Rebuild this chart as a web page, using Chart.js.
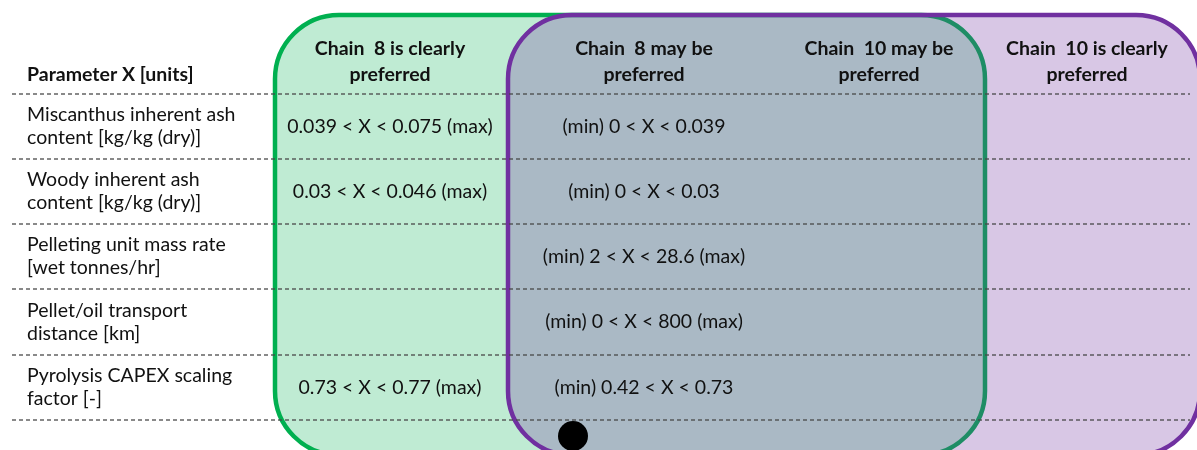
<!DOCTYPE html>
<html>
<head>
<meta charset="utf-8">
<script src="https://cdn.jsdelivr.net/npm/chart.js@4/dist/chart.umd.min.js"></script>
<style>
  html, body { margin: 0; padding: 0; background: #ffffff; overflow: hidden; }
  #wrap { width: 1197px; height: 450px; position: relative; }
</style>
</head>
<body>
<div id="wrap"><canvas id="c"></canvas></div>
<script>
// ---------------- data ----------------
const tableHeader = "Parameter X [units]";
const columnHeaders = [
  ["Chain  8 is clearly", "preferred"],
  ["Chain  8 may be", "preferred"],
  ["Chain  10 may be", "preferred"],
  ["Chain  10 is clearly", "preferred"]
];
const parameters = [
  ["Miscanthus inherent ash", "content [kg/kg (dry)]"],
  ["Woody inherent ash", "content [kg/kg (dry)]"],
  ["Pelleting unit mass rate", "[wet tonnes/hr]"],
  ["Pellet/oil transport", "distance [km]"],
  ["Pyrolysis CAPEX scaling", "factor [-]"]
];
const chain8ClearRanges = [
  "0.039 < X < 0.075 (max)",
  "0.03 < X < 0.046 (max)",
  "",
  "",
  "0.73 < X < 0.77 (max)"
];
const chain8MayRanges = [
  "(min) 0 < X < 0.039",
  "(min) 0 < X < 0.03",
  "(min) 2 < X < 28.6 (max)",
  "(min) 0 < X < 800 (max)",
  "(min) 0.42 < X < 0.73"
];
const chain10MayRanges = ["", "", "", "", ""];
const chain10ClearRanges = ["", "", "", "", ""];

// ---------------- layout (scale units) ----------------
const layout = {
  xMax: 1197, yMax: 450,
  labelX: 27,
  headerLineY: [49, 75],
  rowLines: [94, 159, 224, 289, 355, 420],
  lineStart: 12, lineEnd: 1190,
  colCenters: [390, 644, 879, 1087],
  lineGap: 23,
  zones: [
    { x0: 275, x1: 985, y0: 15, y1: 455, r: 64, stroke: '#00B050', fill: 'rgba(0,176,80,0.25)' },
    { x0: 508, x1: 1200, y0: 15, y1: 455, r: 64, stroke: '#7030A0', fill: 'rgba(112,48,160,0.27)' }
  ],
  dot: { x: 573, y: 436, r: 15 }
};
const FONT = 'Lato';
const FS = 19.5;

const valueColumns = [chain8ClearRanges, chain8MayRanges, chain10MayRanges, chain10ClearRanges];

// ---------------- datasets ----------------
const datasets = [];
layout.rowLines.forEach(y => {
  datasets.push({
    type: 'line',
    data: [{ x: layout.lineStart, y: y }, { x: layout.lineEnd, y: y }],
    borderColor: 'rgba(70,70,70,0.85)',
    borderWidth: 1.3,
    borderDash: [4, 3],
    pointRadius: 0,
    fill: false
  });
});
datasets.push({
  type: 'scatter',
  data: [{ x: layout.dot.x, y: layout.dot.y }],
  pointRadius: layout.dot.r,
  pointHoverRadius: layout.dot.r,
  backgroundColor: '#000000',
  borderColor: '#000000',
  borderWidth: 0,
  clip: false
});

// ---------------- plugins ----------------
function roundRect(ctx, x0, y0, x1, y1, r) {
  ctx.beginPath();
  ctx.moveTo(x0 + r, y0);
  ctx.lineTo(x1 - r, y0);
  ctx.arcTo(x1, y0, x1, y0 + r, r);
  ctx.lineTo(x1, y1 - r);
  ctx.arcTo(x1, y1, x1 - r, y1, r);
  ctx.lineTo(x0 + r, y1);
  ctx.arcTo(x0, y1, x0, y1 - r, r);
  ctx.lineTo(x0, y0 + r);
  ctx.arcTo(x0, y0, x0 + r, y0, r);
  ctx.closePath();
}

const zonesPlugin = {
  id: 'zones',
  beforeDatasetsDraw(chart) {
    const ctx = chart.ctx, xs = chart.scales.x, ys = chart.scales.y;
    ctx.save();
    layout.zones.forEach(z => {
      const x0 = xs.getPixelForValue(z.x0), x1 = xs.getPixelForValue(z.x1);
      const y0 = ys.getPixelForValue(z.y0), y1 = ys.getPixelForValue(z.y1);
      const r = Math.abs(xs.getPixelForValue(z.r) - xs.getPixelForValue(0));
      roundRect(ctx, x0, y0, x1, y1, r);
      ctx.fillStyle = z.fill;
      ctx.fill();
      ctx.lineWidth = 4.5;
      ctx.strokeStyle = z.stroke;
      ctx.stroke();
    });
    ctx.restore();
  }
};

const textPlugin = {
  id: 'tableText',
  afterDatasetsDraw(chart) {
    const ctx = chart.ctx, xs = chart.scales.x, ys = chart.scales.y;
    ctx.save();
    ctx.fillStyle = '#111111';
    ctx.textBaseline = 'middle';
    // header
    ctx.font = `bold ${FS}px ${FONT}`;
    ctx.textAlign = 'left';
    ctx.fillText(tableHeader, xs.getPixelForValue(layout.labelX), ys.getPixelForValue(layout.headerLineY[1]));
    ctx.textAlign = 'center';
    columnHeaders.forEach((lines, i) => {
      lines.forEach((t, j) => {
        ctx.fillText(t, xs.getPixelForValue(layout.colCenters[i]), ys.getPixelForValue(layout.headerLineY[j]));
      });
    });
    // rows
    ctx.font = `${FS}px ${FONT}`;
    parameters.forEach((lines, i) => {
      const yc = (layout.rowLines[i] + layout.rowLines[i + 1]) / 2;
      ctx.textAlign = 'left';
      lines.forEach((t, j) => {
        const y = yc + (j - (lines.length - 1) / 2) * layout.lineGap;
        ctx.fillText(t, xs.getPixelForValue(layout.labelX), ys.getPixelForValue(y));
      });
      ctx.textAlign = 'center';
      valueColumns.forEach((col, k) => {
        if (col[i]) ctx.fillText(col[i], xs.getPixelForValue(layout.colCenters[k]), ys.getPixelForValue(yc));
      });
    });
    ctx.restore();
  }
};

function build() {
  new Chart(document.getElementById('c'), {
    type: 'scatter',
    data: { datasets },
    options: {
      responsive: true,
      maintainAspectRatio: false,
      animation: false,
      events: [],
      layout: { padding: 0, autoPadding: false },
      plugins: { legend: { display: false }, tooltip: { enabled: false } },
      scales: {
        x: { type: 'linear', min: 0, max: layout.xMax, display: false },
        y: { type: 'linear', min: 0, max: layout.yMax, reverse: true, display: false }
      }
    },
    plugins: [zonesPlugin, textPlugin]
  });
}
Promise.all([
  document.fonts.load(`${FS}px ${FONT}`),
  document.fonts.load(`bold ${FS}px ${FONT}`)
]).then(build, build);
</script>
</body>
</html>
